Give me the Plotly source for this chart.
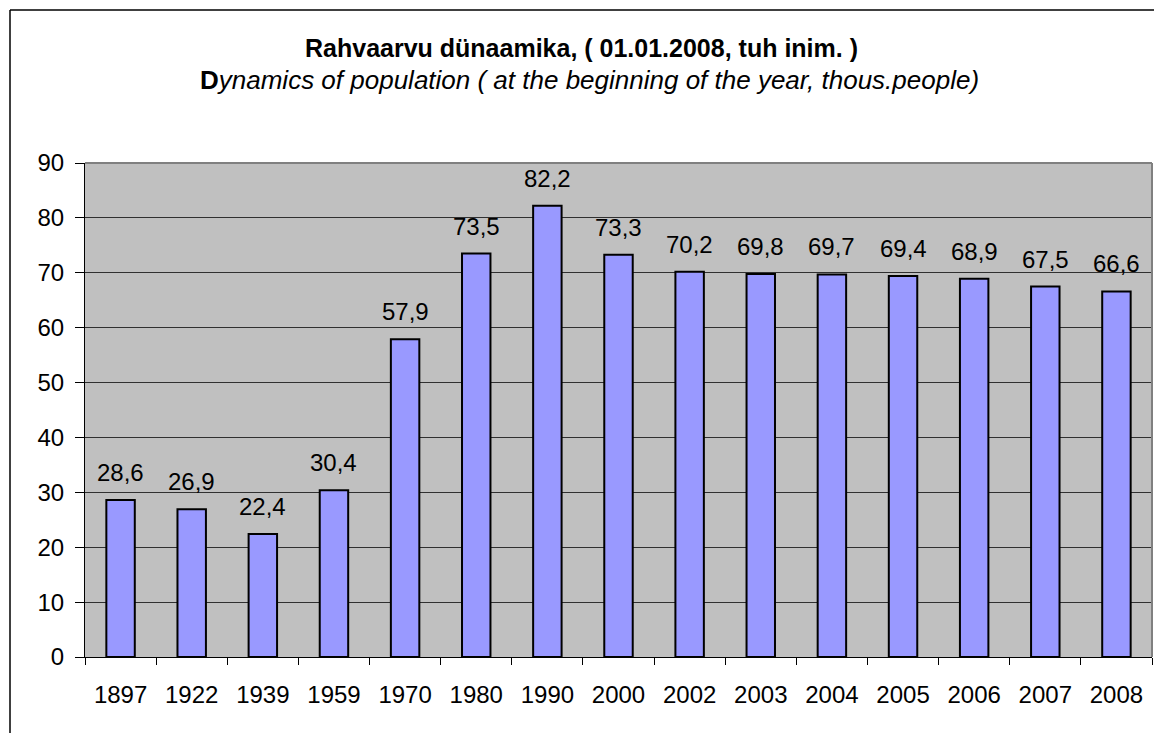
import plotly.graph_objects as go

years = ["1897", "1922", "1939", "1959", "1970", "1980", "1990", "2000",
         "2002", "2003", "2004", "2005", "2006", "2007", "2008"]
population = [28.6, 26.9, 22.4, 30.4, 57.9, 73.5, 82.2, 73.3,
              70.2, 69.8, 69.7, 69.4, 68.9, 67.5, 66.6]
labels = [f"{v:.1f}".replace(".", ",") for v in population]

# page body adds an 8px offset; figure coordinates = screen - 8
W, H = 1154, 725
L, R, T, B = 77, 10, 155, 76
pw, ph = W - L - R, H - T - B
FONT = "Liberation Sans, Arial"


def px(x):  # screen x -> paper
    return (x - 8 - L) / pw


def py(y):  # screen y -> paper
    return (H - B - (y - 8)) / ph


fig = go.Figure(go.Bar(
    x=years, y=population,
    marker=dict(color="#9999FF", line=dict(color="black", width=2)),
    width=0.4,
))

for i, (v, lab) in enumerate(zip(population, labels)):
    fig.add_annotation(x=i, y=v, text=lab, showarrow=False, yanchor="bottom",
                       yshift=12, font=dict(size=24, color="black", family=FONT))

fig.update_layout(
    width=W, height=H,
    margin=dict(l=L, r=R, t=T, b=B, autoexpand=False),
    paper_bgcolor="white", plot_bgcolor="#C0C0C0",
    font=dict(family=FONT, size=24, color="black"),
    showlegend=False,
    bargap=0.6,
)
fig.update_xaxes(type="category", range=[-0.5, len(years) - 0.5],
                 showline=True, linecolor="black", linewidth=1,
                 ticks="outside", tickson="boundaries", ticklen=7, tickcolor="black",
                 showgrid=False, tickfont=dict(size=24), ticklabelstandoff=16,
                 tickangle=0, automargin=False)
fig.update_yaxes(range=[0, 90], dtick=10, showline=True, linecolor="black", linewidth=1,
                 ticks="outside", ticklen=9, tickcolor="black",
                 gridcolor="#303030", gridwidth=1, zeroline=False,
                 tickfont=dict(size=24), ticklabelstandoff=6, automargin=False)

# plot area top/right border (gray)
fig.add_shape(type="line", xref="paper", yref="paper", x0=0, x1=1, y0=1, y1=1,
              line=dict(color="#808080", width=2), layer="above")
fig.add_shape(type="line", xref="paper", yref="paper", x0=1, x1=1, y0=0, y1=1,
              line=dict(color="#808080", width=2), layer="above")
# outer chart frame (left and top)
fig.add_shape(type="line", xref="paper", yref="paper", x0=px(10), x1=px(10), y0=py(10), y1=py(760),
              line=dict(color="black", width=1.5))
fig.add_shape(type="line", xref="paper", yref="paper", x0=px(10), x1=px(1200), y0=py(10), y1=py(10),
              line=dict(color="black", width=1.5))

fig.add_annotation(xref="paper", yref="paper", x=px(581), y=py(48), showarrow=False,
                   xanchor="center", yanchor="middle",
                   text="<b>Rahvaarvu dünaamika, ( 01.01.2008, tuh inim. )</b>",
                   font=dict(size=25, family=FONT))
fig.add_annotation(xref="paper", yref="paper", x=px(589), y=py(80), showarrow=False,
                   xanchor="center", yanchor="middle",
                   text="<b>D</b><i>ynamics of population ( at the beginning of the year, thous.people)</i>",
                   font=dict(size=26, family=FONT))

fig.write_html("out.html")
